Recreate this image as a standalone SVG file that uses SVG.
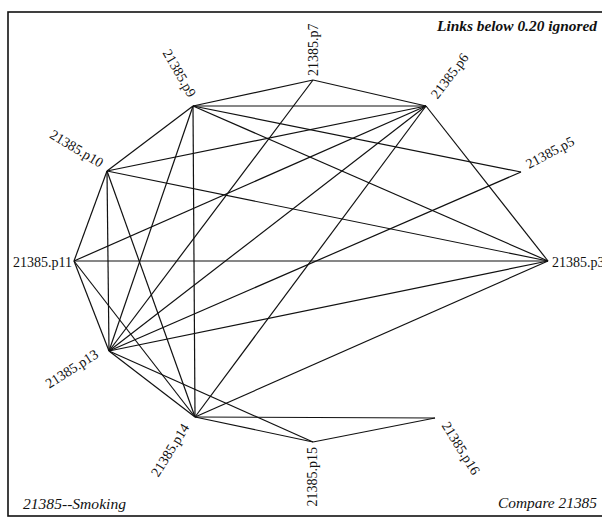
<svg xmlns="http://www.w3.org/2000/svg" width="602" height="519" viewBox="0 0 602 519">
<style>
.lbl{font-family:"Liberation Serif","DejaVu Serif",serif;font-size:14px;fill:#111;dominant-baseline:central}
.ttl{font-family:"Liberation Serif","DejaVu Serif",serif;font-size:14px;font-style:italic;fill:#111}
.e{stroke:#111;stroke-width:1.2;fill:none}
</style>
<rect x="8" y="12" width="620" height="504" fill="none" stroke="#111" stroke-width="1.6"/>
<g id="connectors" class="e">
<line x1="193" y1="106" x2="313" y2="80"/>
<line x1="313" y1="80" x2="426" y2="106"/>
<line x1="193" y1="106" x2="426" y2="106"/>
<line x1="193" y1="106" x2="521" y2="172"/>
<line x1="193" y1="106" x2="548" y2="261"/>
<line x1="193" y1="106" x2="107" y2="171"/>
<line x1="193" y1="106" x2="109" y2="351"/>
<line x1="193" y1="106" x2="195" y2="417"/>
<line x1="426" y1="106" x2="548" y2="261"/>
<line x1="426" y1="106" x2="107" y2="171"/>
<line x1="426" y1="106" x2="74" y2="261"/>
<line x1="426" y1="106" x2="109" y2="351"/>
<line x1="426" y1="106" x2="195" y2="417"/>
<line x1="313" y1="80" x2="109" y2="351"/>
<line x1="521" y1="172" x2="109" y2="351"/>
<line x1="107" y1="171" x2="74" y2="261"/>
<line x1="107" y1="171" x2="109" y2="351"/>
<line x1="107" y1="171" x2="195" y2="417"/>
<line x1="107" y1="171" x2="548" y2="261"/>
<line x1="74" y1="261" x2="548" y2="261"/>
<line x1="74" y1="261" x2="109" y2="351"/>
<line x1="74" y1="261" x2="195" y2="417"/>
<line x1="109" y1="351" x2="548" y2="261"/>
<line x1="195" y1="417" x2="548" y2="261"/>
<line x1="109" y1="351" x2="195" y2="417"/>
<line x1="109" y1="351" x2="313" y2="442"/>
<line x1="195" y1="417" x2="313" y2="442"/>
<line x1="195" y1="417" x2="435" y2="418"/>
<line x1="313" y1="442" x2="435" y2="418"/>
</g>
<g id="p3"><text class="lbl" x="552" y="262">21385.p3</text></g>
<g id="p5"><text class="lbl" transform="translate(527,165) rotate(-28)">21385.p5</text></g>
<g id="p6"><text class="lbl" transform="translate(434,97) rotate(-53)">21385.p6</text></g>
<g id="p7"><text class="lbl" transform="translate(313,76) rotate(-90)">21385.p7</text></g>
<g id="p9"><text class="lbl" text-anchor="end" transform="translate(192.5,96) rotate(60)">21385.p9</text></g>
<g id="p10"><text class="lbl" text-anchor="end" transform="translate(102,164) rotate(31)">21385.p10</text></g>
<g id="p11"><text class="lbl" text-anchor="end" x="72" y="262">21385.p11</text></g>
<g id="p13"><text class="lbl" text-anchor="end" transform="translate(97,353) rotate(-32.5)">21385.p13</text></g>
<g id="p14"><text class="lbl" text-anchor="end" transform="translate(186,425) rotate(-58)">21385.p14</text></g>
<g id="p15"><text class="lbl" text-anchor="end" transform="translate(312,447) rotate(-90)">21385.p15</text></g>
<g id="p16"><text class="lbl" transform="translate(445,423) rotate(58)">21385.p16</text></g>
<text class="ttl" x="437" y="31" font-weight="bold" textLength="160" lengthAdjust="spacingAndGlyphs">Links below 0.20 ignored</text>
<text class="ttl" x="23" y="509" textLength="103" lengthAdjust="spacingAndGlyphs">21385--Smoking</text>
<text class="ttl" x="498" y="508" textLength="99" lengthAdjust="spacingAndGlyphs">Compare 21385</text>
</svg>
